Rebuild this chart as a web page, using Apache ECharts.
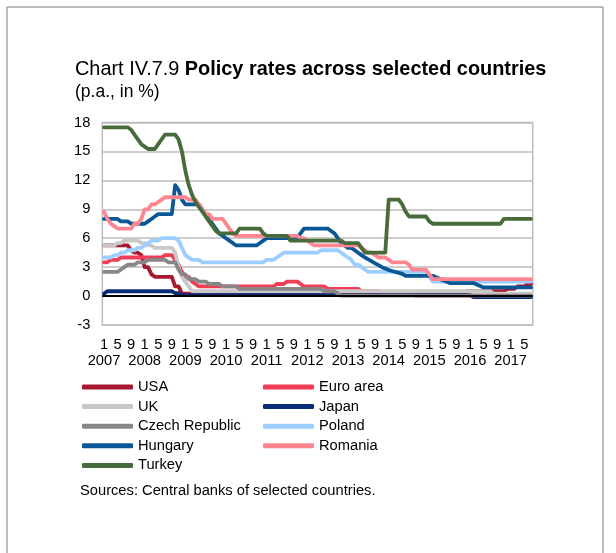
<!DOCTYPE html>
<html>
<head>
<meta charset="utf-8">
<script src="https://cdn.jsdelivr.net/npm/echarts@6/dist/echarts.min.js"></script>
<style>
  html, body { margin: 0; padding: 0; background: #ffffff; }
  #chart { width: 616px; height: 553px; }
</style>
</head>
<body>
<div id="chart"></div>
<script>
// Monthly categories, January 2007 to July 2017
const years = [2007, 2008, 2009, 2010, 2011, 2012, 2013, 2014, 2015, 2016, 2017];
const monthsInLastYear = 7;
const categories = [];
years.forEach(function (y, k) {
  const n = k === years.length - 1 ? monthsInLastYear : 12;
  for (let m = 1; m <= n; m++) categories.push(y + '-' + m);
});

// Months that carry a tick label (January, May, September)
const labelledMonths = ['1', '5', '9'];

// Value axis ticks
const yTicks = [-3, 0, 3, 6, 9, 12, 15, 18];

// Policy rates, end of month, % p.a. (one row per year)
const usa = [
  5.25,5.25,5.25,5.25,5.25,5.25,5.25,5.25,4.75,4.5,4.5,4.25,
  3.0,3.0,2.25,2.0,2.0,2.0,2.0,2.0,2.0,1.0,1.0,0.25,
  0.25,0.25,0.25,0.25,0.25,0.25,0.25,0.25,0.25,0.25,0.25,0.25,
  0.25,0.25,0.25,0.25,0.25,0.25,0.25,0.25,0.25,0.25,0.25,0.25,
  0.25,0.25,0.25,0.25,0.25,0.25,0.25,0.25,0.25,0.25,0.25,0.25,
  0.25,0.25,0.25,0.25,0.25,0.25,0.25,0.25,0.25,0.25,0.25,0.25,
  0.25,0.25,0.25,0.25,0.25,0.25,0.25,0.25,0.25,0.25,0.25,0.25,
  0.25,0.25,0.25,0.25,0.25,0.25,0.25,0.25,0.25,0.25,0.25,0.25,
  0.25,0.25,0.25,0.25,0.25,0.25,0.25,0.25,0.25,0.25,0.25,0.5,
  0.5,0.5,0.5,0.5,0.5,0.5,0.5,0.5,0.5,0.5,0.5,0.75,
  0.75,0.75,1.0,1.0,1.0,1.25,1.25
];
const euroArea = [
  3.5,3.5,3.75,3.75,3.75,4.0,4.0,4.0,4.0,4.0,4.0,4.0,
  4.0,4.0,4.0,4.0,4.0,4.0,4.25,4.25,4.25,3.75,3.25,2.5,
  2.0,2.0,1.5,1.25,1.0,1.0,1.0,1.0,1.0,1.0,1.0,1.0,
  1.0,1.0,1.0,1.0,1.0,1.0,1.0,1.0,1.0,1.0,1.0,1.0,
  1.0,1.0,1.0,1.25,1.25,1.25,1.5,1.5,1.5,1.5,1.25,1.0,
  1.0,1.0,1.0,1.0,1.0,1.0,0.75,0.75,0.75,0.75,0.75,0.75,
  0.75,0.75,0.75,0.75,0.5,0.5,0.5,0.5,0.5,0.5,0.25,0.25,
  0.25,0.25,0.25,0.25,0.25,0.15,0.15,0.15,0.05,0.05,0.05,0.05,
  0.05,0.05,0.05,0.05,0.05,0.05,0.05,0.05,0.05,0.05,0.05,0.05,
  0.05,0.05,0.0,0.0,0.0,0.0,0.0,0.0,0.0,0.0,0.0,0.0,
  0.0,0.0,0.0,0.0,0.0,0.0,0.0
];
const uk = [
  5.25,5.25,5.25,5.25,5.5,5.5,5.75,5.75,5.75,5.75,5.75,5.5,
  5.5,5.25,5.25,5.0,5.0,5.0,5.0,5.0,5.0,4.5,3.0,2.0,
  1.5,1.0,0.5,0.5,0.5,0.5,0.5,0.5,0.5,0.5,0.5,0.5,
  0.5,0.5,0.5,0.5,0.5,0.5,0.5,0.5,0.5,0.5,0.5,0.5,
  0.5,0.5,0.5,0.5,0.5,0.5,0.5,0.5,0.5,0.5,0.5,0.5,
  0.5,0.5,0.5,0.5,0.5,0.5,0.5,0.5,0.5,0.5,0.5,0.5,
  0.5,0.5,0.5,0.5,0.5,0.5,0.5,0.5,0.5,0.5,0.5,0.5,
  0.5,0.5,0.5,0.5,0.5,0.5,0.5,0.5,0.5,0.5,0.5,0.5,
  0.5,0.5,0.5,0.5,0.5,0.5,0.5,0.5,0.5,0.5,0.5,0.5,
  0.5,0.5,0.5,0.5,0.5,0.5,0.5,0.25,0.25,0.25,0.25,0.25,
  0.25,0.25,0.25,0.25,0.25,0.25,0.25
];
const japan = [
  0.25,0.5,0.5,0.5,0.5,0.5,0.5,0.5,0.5,0.5,0.5,0.5,
  0.5,0.5,0.5,0.5,0.5,0.5,0.5,0.5,0.5,0.3,0.3,0.1,
  0.1,0.1,0.1,0.1,0.1,0.1,0.1,0.1,0.1,0.1,0.1,0.1,
  0.1,0.1,0.1,0.1,0.1,0.1,0.1,0.1,0.1,0.1,0.1,0.1,
  0.1,0.1,0.1,0.1,0.1,0.1,0.1,0.1,0.1,0.1,0.1,0.1,
  0.1,0.1,0.1,0.1,0.1,0.1,0.1,0.1,0.1,0.1,0.1,0.1,
  0.1,0.1,0.1,0.1,0.1,0.1,0.1,0.1,0.1,0.1,0.1,0.1,
  0.1,0.1,0.1,0.1,0.1,0.1,0.1,0.1,0.1,0.1,0.1,0.1,
  0.1,0.1,0.1,0.1,0.1,0.1,0.1,0.1,0.1,0.1,0.1,0.1,
  0.1,-0.1,-0.1,-0.1,-0.1,-0.1,-0.1,-0.1,-0.1,-0.1,-0.1,-0.1,
  -0.1,-0.1,-0.1,-0.1,-0.1,-0.1,-0.1
];
const czechRepublic = [
  2.5,2.5,2.5,2.5,2.5,2.75,3.0,3.25,3.25,3.25,3.5,3.5,
  3.5,3.75,3.75,3.75,3.75,3.75,3.75,3.5,3.5,3.5,2.75,2.25,
  2.25,1.75,1.75,1.75,1.5,1.5,1.5,1.25,1.25,1.25,1.25,1.0,
  1.0,1.0,1.0,1.0,0.75,0.75,0.75,0.75,0.75,0.75,0.75,0.75,
  0.75,0.75,0.75,0.75,0.75,0.75,0.75,0.75,0.75,0.75,0.75,0.75,
  0.75,0.75,0.75,0.75,0.75,0.5,0.5,0.5,0.5,0.25,0.05,0.05,
  0.05,0.05,0.05,0.05,0.05,0.05,0.05,0.05,0.05,0.05,0.05,0.05,
  0.05,0.05,0.05,0.05,0.05,0.05,0.05,0.05,0.05,0.05,0.05,0.05,
  0.05,0.05,0.05,0.05,0.05,0.05,0.05,0.05,0.05,0.05,0.05,0.05,
  0.05,0.05,0.05,0.05,0.05,0.05,0.05,0.05,0.05,0.05,0.05,0.05,
  0.05,0.05,0.05,0.05,0.05,0.05,0.05
];
const poland = [
  4.0,4.0,4.0,4.25,4.25,4.5,4.5,4.75,4.75,4.75,5.0,5.0,
  5.25,5.5,5.75,5.75,5.75,6.0,6.0,6.0,6.0,6.0,5.75,5.0,
  4.25,4.0,3.75,3.75,3.75,3.5,3.5,3.5,3.5,3.5,3.5,3.5,
  3.5,3.5,3.5,3.5,3.5,3.5,3.5,3.5,3.5,3.5,3.5,3.5,
  3.75,3.75,3.75,4.0,4.25,4.5,4.5,4.5,4.5,4.5,4.5,4.5,
  4.5,4.5,4.5,4.5,4.75,4.75,4.75,4.75,4.75,4.75,4.5,4.25,
  4.0,3.75,3.25,3.25,3.0,2.75,2.5,2.5,2.5,2.5,2.5,2.5,
  2.5,2.5,2.5,2.5,2.5,2.5,2.5,2.5,2.5,2.5,2.5,2.5,
  2.0,1.5,1.5,1.5,1.5,1.5,1.5,1.5,1.5,1.5,1.5,1.5,
  1.5,1.5,1.5,1.5,1.5,1.5,1.5,1.5,1.5,1.5,1.5,1.5,
  1.5,1.5,1.5,1.5,1.5,1.5,1.5
];
const hungary = [
  8.0,8.0,8.0,8.0,8.0,7.75,7.75,7.75,7.5,7.5,7.5,7.5,
  7.5,7.75,8.0,8.25,8.5,8.5,8.5,8.5,8.5,11.5,11.0,10.0,
  9.5,9.5,9.5,9.5,9.5,9.0,8.5,8.0,7.5,7.0,6.5,6.25,
  6.0,5.75,5.5,5.25,5.25,5.25,5.25,5.25,5.25,5.25,5.5,5.75,
  6.0,6.0,6.0,6.0,6.0,6.0,6.0,6.0,6.0,6.0,6.5,7.0,
  7.0,7.0,7.0,7.0,7.0,7.0,7.0,6.75,6.5,6.0,5.5,5.25,
  5.0,5.0,4.75,4.5,4.25,4.0,3.8,3.6,3.4,3.2,3.0,2.85,
  2.7,2.6,2.5,2.4,2.3,2.1,2.1,2.1,2.1,2.1,2.1,2.1,
  2.1,2.1,1.95,1.8,1.65,1.5,1.35,1.35,1.35,1.35,1.35,1.35,
  1.35,1.35,1.2,1.05,0.9,0.9,0.9,0.9,0.9,0.9,0.9,0.9,
  0.9,0.9,0.9,0.9,0.9,0.9,0.9
];
const romania = [
  8.75,8.0,7.5,7.25,7.0,7.0,7.0,7.0,7.0,7.5,7.5,8.0,
  9.0,9.0,9.5,9.5,9.75,10.0,10.25,10.25,10.25,10.25,10.25,10.25,
  10.25,10.0,10.0,10.0,9.5,9.0,8.5,8.5,8.0,8.0,8.0,8.0,
  7.5,7.0,6.5,6.25,6.25,6.25,6.25,6.25,6.25,6.25,6.25,6.25,
  6.25,6.25,6.25,6.25,6.25,6.25,6.25,6.25,6.25,6.25,6.0,6.0,
  5.75,5.5,5.25,5.25,5.25,5.25,5.25,5.25,5.25,5.25,5.25,5.25,
  5.25,5.25,5.25,5.25,5.0,4.75,4.5,4.5,4.25,4.0,4.0,4.0,
  3.75,3.5,3.5,3.5,3.5,3.5,3.25,2.75,2.75,2.75,2.75,2.75,
  2.25,1.75,1.75,1.75,1.75,1.75,1.75,1.75,1.75,1.75,1.75,1.75,
  1.75,1.75,1.75,1.75,1.75,1.75,1.75,1.75,1.75,1.75,1.75,1.75,
  1.75,1.75,1.75,1.75,1.75,1.75,1.75
];
const turkey = [
  17.5,17.5,17.5,17.5,17.5,17.5,17.5,17.5,17.25,16.75,16.25,15.75,
  15.5,15.25,15.25,15.25,15.75,16.25,16.75,16.75,16.75,16.75,16.25,15.0,
  13.0,11.5,10.5,9.75,9.25,8.75,8.25,7.75,7.25,6.75,6.5,6.5,
  6.5,6.5,6.5,6.5,7.0,7.0,7.0,7.0,7.0,7.0,7.0,6.5,
  6.25,6.25,6.25,6.25,6.25,6.25,6.25,5.75,5.75,5.75,5.75,5.75,
  5.75,5.75,5.75,5.75,5.75,5.75,5.75,5.75,5.75,5.75,5.75,5.5,
  5.5,5.5,5.5,5.5,5.0,4.5,4.5,4.5,4.5,4.5,4.5,4.5,
  10.0,10.0,10.0,10.0,9.5,8.75,8.25,8.25,8.25,8.25,8.25,8.25,
  7.75,7.5,7.5,7.5,7.5,7.5,7.5,7.5,7.5,7.5,7.5,7.5,
  7.5,7.5,7.5,7.5,7.5,7.5,7.5,7.5,7.5,7.5,8.0,8.0,
  8.0,8.0,8.0,8.0,8.0,8.0,8.0
];

const countries = [
  { name: 'USA',            data: usa,           color: '#A8182F' },
  { name: 'Euro area',      data: euroArea,      color: '#F23D57' },
  { name: 'UK',             data: uk,            color: '#C8C8C8' },
  { name: 'Japan',          data: japan,         color: '#082B78' },
  { name: 'Czech Republic', data: czechRepublic, color: '#878787' },
  { name: 'Poland',         data: poland,        color: '#9CCEFF' },
  { name: 'Hungary',        data: hungary,       color: '#0A5796' },
  { name: 'Romania',        data: romania,       color: '#FF8590' },
  { name: 'Turkey',         data: turkey,        color: '#476B3A' }
];

const FONT = '"Liberation Sans", Arial, sans-serif';

const series = countries.map(function (c, k) {
  const s = {
    name: c.name,
    type: 'line',
    data: c.data,
    symbol: 'none',
    color: c.color,
    lineStyle: { color: c.color, width: 3.8, cap: 'round', join: 'round' },
    emphasis: { disabled: true },
    silent: true
  };
  if (k === 0) {
    // horizontal axis line at zero, drawn beneath the rate lines
    s.markLine = {
      silent: true,
      symbol: 'none',
      label: { show: false },
      lineStyle: { color: '#000000', width: 2, type: 'solid' },
      data: [{ yAxis: 0 }]
    };
  }
  return s;
});

const legendBase = {
  orient: 'vertical',
  top: 379,
  padding: 0,
  itemWidth: 51,
  itemHeight: 5,
  itemGap: 3.6,
  icon: 'roundRect',
  selectedMode: false,
  textStyle: { fontFamily: FONT, fontSize: 14.7, color: '#000', lineHeight: 16 }
};

// Shared settings of the two category axes (months row, years row)
const catAxisBase = {
  type: 'category',
  data: categories,
  boundaryGap: true,
  position: 'bottom',
  axisLine: { show: false },
  axisTick: { show: false },
  splitLine: { show: false }
};
const labelText = { fontFamily: FONT, fontSize: 14.7, color: '#000', lineHeight: 16 };

const chart = echarts.init(document.getElementById('chart'), null, { renderer: 'canvas' });
chart.setOption({
  animation: false,
  backgroundColor: '#ffffff',
  title: [
    {
      text: '{n|Chart IV.7.9 }{b|Policy rates across selected countries}',
      left: 75, top: 58, padding: 0,
      textStyle: {
        rich: {
          n: { fontFamily: FONT, fontSize: 19.9, fontWeight: 'normal', color: '#000', lineHeight: 24 },
          b: { fontFamily: FONT, fontSize: 19.9, fontWeight: 'bold', color: '#000', lineHeight: 24 }
        }
      }
    },
    {
      text: '(p.a., in %)',
      left: 75, top: 82.5, padding: 0,
      textStyle: { fontFamily: FONT, fontSize: 17.5, fontWeight: 'normal', color: '#000', lineHeight: 20 }
    }
  ],
  legend: [
    Object.assign({}, legendBase, { left: 82, data: ['USA', 'UK', 'Czech Republic', 'Hungary', 'Turkey'] }),
    Object.assign({}, legendBase, { left: 263, data: ['Euro area', 'Japan', 'Poland', 'Romania'] })
  ],
  grid: {
    left: 102.3, right: 83.3, top: 122.5, bottom: 228,
    show: true, borderColor: '#BDBDBD', borderWidth: 1.5, backgroundColor: 'transparent'
  },
  xAxis: [
    Object.assign({}, catAxisBase, {
      axisLabel: Object.assign({}, labelText, {
        margin: 12,
        showMinLabel: true,
        showMaxLabel: true,
        interval: function (index, value) {
          return labelledMonths.indexOf(value.split('-')[1]) !== -1;
        },
        formatter: function (v) { return v.split('-')[1]; }
      })
    }),
    Object.assign({}, catAxisBase, {
      offset: 16,
      axisLabel: Object.assign({}, labelText, {
        margin: 12,
        showMinLabel: true,
        showMaxLabel: true,
        interval: function (index, value) { return value.split('-')[1] === '1'; },
        formatter: function (v) { return v.split('-')[0]; }
      })
    })
  ],
  yAxis: {
    type: 'value',
    min: yTicks[0],
    max: yTicks[yTicks.length - 1],
    interval: yTicks[1] - yTicks[0],
    axisLine: { show: false },
    axisTick: { show: false },
    axisLabel: { margin: 12, fontFamily: FONT, fontSize: 14.7, color: '#000' },
    splitLine: { lineStyle: { color: '#BDBDBD', width: 1.5 } }
  },
  series: series,
  graphic: [
    {
      type: 'text', left: 80, top: 483, silent: true,
      style: { text: 'Sources: Central banks of selected countries.', font: '14.7px ' + FONT, fill: '#000' }
    },
    { type: 'line', silent: true, shape: { x1: 7, y1: 7, x2: 7, y2: 553 }, style: { stroke: '#A6A6A6', lineWidth: 1.5 } },
    { type: 'line', silent: true, shape: { x1: 7, y1: 7, x2: 603, y2: 7 }, style: { stroke: '#A6A6A6', lineWidth: 1.5 } },
    { type: 'line', silent: true, shape: { x1: 603, y1: 7, x2: 603, y2: 553 }, style: { stroke: '#A6A6A6', lineWidth: 1.5 } }
  ]
});
</script>
</body>
</html>
